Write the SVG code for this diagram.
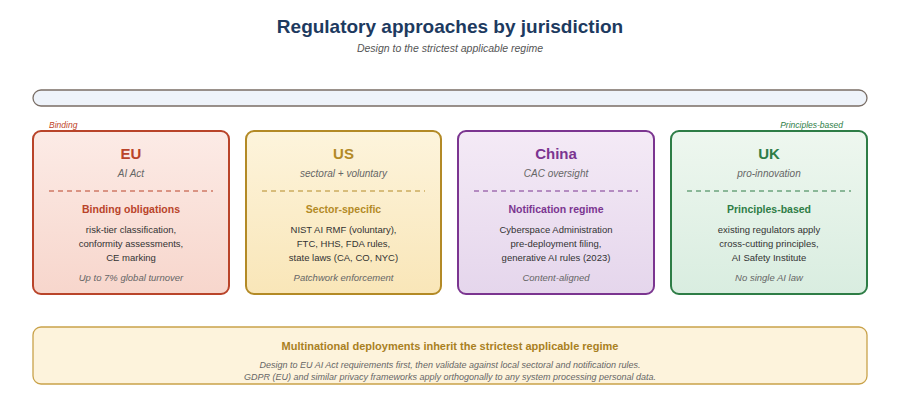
<svg xmlns="http://www.w3.org/2000/svg" width="900" height="409" viewBox="0 0 900 409">
<style>
text{font-family:"Liberation Sans",Arial,sans-serif;text-anchor:middle}
.t{font-size:19px;font-weight:bold;fill:#1d3a5f}
.st{font-size:10.5px;font-style:italic;fill:#555}
.h{font-size:15px;font-weight:bold}
.sub{font-size:10px;font-style:italic;fill:#666}
.sec{font-size:10.5px;font-weight:bold}
.b{font-size:9.5px;fill:#333}
.f{font-size:9.5px;font-style:italic;fill:#666}
.card{stroke-width:2}
</style>
<defs>
<linearGradient id="gEU" x1="0" y1="0" x2="0" y2="1"><stop offset="0" stop-color="#fcebe6"/><stop offset="1" stop-color="#f7d6cc"/></linearGradient>
<linearGradient id="gUS" x1="0" y1="0" x2="0" y2="1"><stop offset="0" stop-color="#fdf4dc"/><stop offset="1" stop-color="#f9e6b8"/></linearGradient>
<linearGradient id="gCN" x1="0" y1="0" x2="0" y2="1"><stop offset="0" stop-color="#f4eaf6"/><stop offset="1" stop-color="#e5d6ec"/></linearGradient>
<linearGradient id="gUK" x1="0" y1="0" x2="0" y2="1"><stop offset="0" stop-color="#eef7ef"/><stop offset="1" stop-color="#d9ede0"/></linearGradient>
</defs>
<text class="t" x="450" y="33">Regulatory approaches by jurisdiction</text>
<text class="st" x="450" y="52">Design to the strictest applicable regime</text>
<rect x="33" y="90" width="834" height="16" rx="8" fill="#eef3fa" stroke="#7a6e66" stroke-width="1.3"/>
<text x="49" y="128" style="font-size:8.5px;font-style:italic;fill:#c0452a;text-anchor:start">Binding</text>
<text x="843" y="128" style="font-size:8.5px;font-style:italic;fill:#2e7d46;text-anchor:end">Principles-based</text>
<g id="eu">
<rect class="card" x="33" y="131" width="196" height="163" rx="8" fill="url(#gEU)" stroke="#b9442a"/>
<text class="h" x="131" y="159" fill="#b9442a">EU</text>
<text class="sub" x="131" y="177">AI Act</text>
<line x1="49" y1="191" x2="213" y2="191" stroke="#b9442a" stroke-dasharray="5,4"/>
<text class="sec" x="131" y="213" fill="#b9442a">Binding obligations</text>
<text class="b" x="131" y="233">risk-tier classification,</text>
<text class="b" x="131" y="247">conformity assessments,</text>
<text class="b" x="131" y="261">CE marking</text>
<text class="f" x="131" y="281">Up to 7% global turnover</text>
</g>
<g id="us">
<rect class="card" x="246" y="131" width="195" height="163" rx="8" fill="url(#gUS)" stroke="#b38a26"/>
<text class="h" x="343.500" y="159" fill="#b38a26">US</text>
<text class="sub" x="343.500" y="177">sectoral + voluntary</text>
<line x1="262" y1="191" x2="425" y2="191" stroke="#b38a26" stroke-dasharray="5,4"/>
<text class="sec" x="343.500" y="213" fill="#b38a26">Sector-specific</text>
<text class="b" x="343.500" y="233">NIST AI RMF (voluntary),</text>
<text class="b" x="343.500" y="247">FTC, HHS, FDA rules,</text>
<text class="b" x="343.500" y="261">state laws (CA, CO, NYC)</text>
<text class="f" x="343.500" y="281">Patchwork enforcement</text>
</g>
<g id="china">
<rect class="card" x="458" y="131" width="196" height="163" rx="8" fill="url(#gCN)" stroke="#7b3590"/>
<text class="h" x="556" y="159" fill="#7b3590">China</text>
<text class="sub" x="556" y="177">CAC oversight</text>
<line x1="474" y1="191" x2="638" y2="191" stroke="#7b3590" stroke-dasharray="5,4"/>
<text class="sec" x="556" y="213" fill="#7b3590">Notification regime</text>
<text class="b" x="556" y="233">Cyberspace Administration</text>
<text class="b" x="556" y="247">pre-deployment filing,</text>
<text class="b" x="556" y="261">generative AI rules (2023)</text>
<text class="f" x="556" y="281">Content-aligned</text>
</g>
<g id="uk">
<rect class="card" x="671" y="131" width="196" height="163" rx="8" fill="url(#gUK)" stroke="#2e7d46"/>
<text class="h" x="769" y="159" fill="#2e7d46">UK</text>
<text class="sub" x="769" y="177">pro-innovation</text>
<line x1="687" y1="191" x2="851" y2="191" stroke="#2e7d46" stroke-dasharray="5,4"/>
<text class="sec" x="769" y="213" fill="#2e7d46">Principles-based</text>
<text class="b" x="769" y="233">existing regulators apply</text>
<text class="b" x="769" y="247">cross-cutting principles,</text>
<text class="b" x="769" y="261">AI Safety Institute</text>
<text class="f" x="769" y="281">No single AI law</text>
</g>
<g id="connectors"></g>
<g id="summary">
<rect x="33" y="327" width="834" height="57" rx="8" fill="#fdf3dc" stroke="#c9a24a" stroke-width="1.3"/>
<text x="450" y="350" style="font-size:11px;font-weight:bold;fill:#a9801f">Multinational deployments inherit the strictest applicable regime</text>
<text class="f" x="450" y="368" style="font-size:9px">Design to EU AI Act requirements first, then validate against local sectoral and notification rules.</text>
<text class="f" x="450" y="380" style="font-size:9px">GDPR (EU) and similar privacy frameworks apply orthogonally to any system processing personal data.</text>
</g>
</svg>
